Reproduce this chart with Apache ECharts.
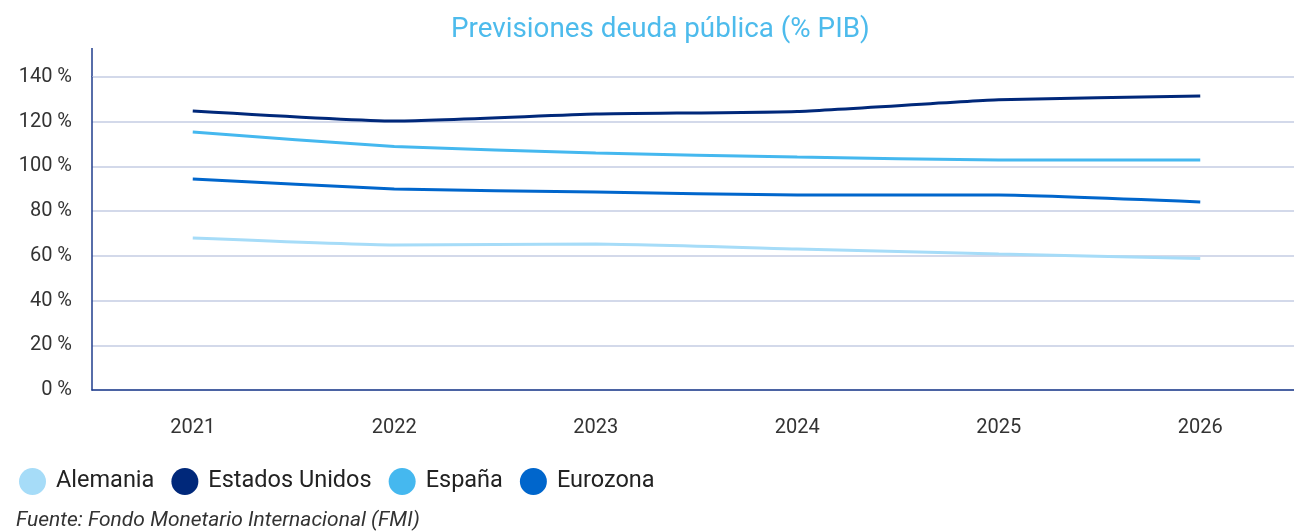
<!DOCTYPE html>
<html>
<head>
<meta charset="utf-8">
<script src="https://cdn.jsdelivr.net/npm/echarts@6/dist/echarts.min.js"></script>
<style>
  html, body { margin: 0; padding: 0; background: #fff; overflow: hidden; }
  #chart { width: 1301px; height: 531px; }
</style>
</head>
<body>
<div id="chart"></div>
<script>
// datos
const years = ['2021', '2022', '2023', '2024', '2025', '2026']
const alemania = [68.0, 64.9, 65.3, 63.1, 60.8, 58.8]
const estadosUnidos = [124.8, 120.3, 123.4, 124.6, 129.8, 131.5]
const espana = [115.4, 108.9, 106.0, 104.2, 102.9, 102.9]
const eurozona = [94.4, 89.9, 88.6, 87.2, 87.2, 84.1]
const yTicks = [0, 20, 40, 60, 80, 100, 120, 140]

const fontFam = 'Roboto, "Noto Sans", sans-serif'
const axisBlue = '#1f3c8c'

const chart = echarts.init(document.getElementById('chart'))

const mkLine = (name, data, color) => ({
  name,
  type: 'line',
  data,
  smooth: 0.15,
  symbol: 'none',
  lineStyle: { width: 3, color },
  itemStyle: { color }
})

chart.setOption({
  animation: false,
  title: {
    text: 'Previsiones deuda pública (% PIB)',
    left: 446,
    top: 11,
    textStyle: { color: '#4dbbec', fontSize: 27.8, fontWeight: 'normal', fontFamily: fontFam }
  },
  legend: {
    left: 14,
    top: 463,
    icon: 'circle',
    itemWidth: 27,
    itemHeight: 27,
    itemGap: 17,
    textStyle: { fontSize: 23.5, color: '#222', fontFamily: fontFam, padding: [0, 0, 0, 5] },
    data: ['Alemania', 'Estados Unidos', 'España', 'Eurozona']
  },
  grid: { left: 92, right: 0, top: 77, bottom: 141 },
  xAxis: {
    type: 'category',
    data: years,
    boundaryGap: true,
    axisLine: { lineStyle: { color: axisBlue, width: 1.5 } },
    axisTick: { alignWithLabel: true, inside: true, length: 14, lineStyle: { color: '#cdd5e6', width: 2 } },
    axisLabel: { color: '#333', fontSize: 20, margin: 28, fontFamily: fontFam }
  },
  yAxis: {
    type: 'value',
    min: yTicks[0],
    max: yTicks[yTicks.length - 1],
    interval: 20,
    axisLine: { show: true, lineStyle: { color: axisBlue, width: 1.5 } },
    axisTick: { show: false },
    axisLabel: { color: '#333', fontSize: 20, margin: 20, fontFamily: fontFam, formatter: '{value} %' },
    splitLine: { lineStyle: { color: '#d3d9ea', width: 2 } }
  },
  graphic: [
    {
      type: 'line',
      shape: { x1: 92, y1: 48, x2: 92, y2: 77 },
      style: { stroke: axisBlue, lineWidth: 1.5 }
    },
    {
      type: 'text',
      left: 16,
      top: 510,
      style: {
        text: 'Fuente: Fondo Monetario Internacional (FMI)',
        fill: '#333',
        font: 'italic 21px ' + fontFam
      }
    }
  ],
  series: [
    mkLine('Alemania', alemania, '#a6dcf8'),
    mkLine('Estados Unidos', estadosUnidos, '#00287a'),
    mkLine('España', espana, '#45b8ef'),
    mkLine('Eurozona', eurozona, '#0066cc')
  ]
})
</script>
</body>
</html>
